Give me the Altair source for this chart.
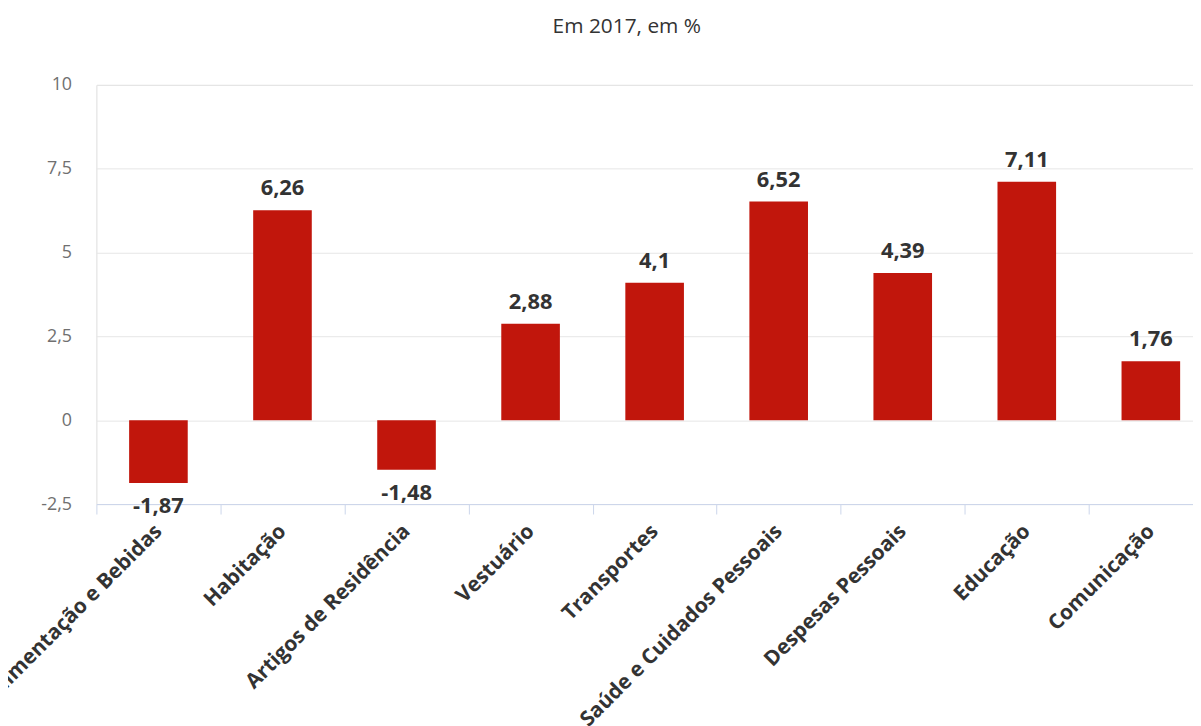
import altair as alt
import pandas as pd

categories = ["Alimentação e Bebidas", "Habitação", "Artigos de Residência", "Vestuário",
              "Transportes", "Saúde e Cuidados Pessoais", "Despesas Pessoais", "Educação", "Comunicação"]
values = [-1.87, 6.26, -1.48, 2.88, 4.1, 6.52, 4.39, 7.11, 1.76]
labels = ["-1,87", "6,26", "-1,48", "2,88", "4,1", "6,52", "4,39", "7,11", "1,76"]
y_ticks = [-2.5, 0, 2.5, 5, 7.5, 10]

df = pd.DataFrame({"cat": categories, "val": values, "lab": labels})

FONT = "Open Sans"

x = alt.X(
    "cat:N", sort=categories,
    scale=alt.Scale(range=[0, 1124], paddingInner=0, paddingOuter=0),
    axis=alt.Axis(
        title=None, labelAngle=-45, labelAlign="right", labelBaseline="middle",
        labelFont=FONT, labelFontWeight="bold", labelFontSize=21, labelColor="#333333",
        labelPadding=14, labelLimit=500, labelOverlap=False, tickBand="extent",
        tickSize=10, tickColor="#ccd6eb", domainColor="#ccd6eb", grid=False,
    ),
)
y = alt.Y(
    "val:Q",
    scale=alt.Scale(domain=[-2.5, 10], nice=False, zero=False),
    axis=alt.Axis(
        title=None, values=y_ticks, labelExpr="replace(toString(datum.value), '.', ',')",
        labelFont=FONT, labelFontSize=18, labelColor="#707070", labelPadding=25,
        domain=False, ticks=False, grid=True, gridColor="#e6e6e6",
    ),
)

base = alt.Chart(df)
bars = base.mark_bar(width=59, color="#c1160c").encode(x=x, y=y)
pos = base.transform_filter("datum.val >= 0").mark_text(
    baseline="alphabetic", dy=-15, font=FONT, fontSize=22, fontWeight="bold", color="#333333"
).encode(x=x, y=y, text="lab:N")
neg = base.transform_filter("datum.val < 0").mark_text(
    baseline="top", dy=13, font=FONT, fontSize=22, fontWeight="bold", color="#333333"
).encode(x=x, y=y, text="lab:N")

chart = alt.layer(bars, pos, neg).properties(
    width=1104, height=422,
    title=alt.TitleParams("Em 2017, em %", font=FONT, fontSize=21, fontWeight="normal",
                          color="#333333", anchor="middle", dx=-18, offset=39),
    autosize=alt.AutoSizeParams(type="none"),
    padding={"left": 89, "top": 75, "right": 0, "bottom": 221},
).configure_view(stroke=None).configure(background="white")

chart.save("out.html", embed_options={"renderer": "svg", "actions": False})
